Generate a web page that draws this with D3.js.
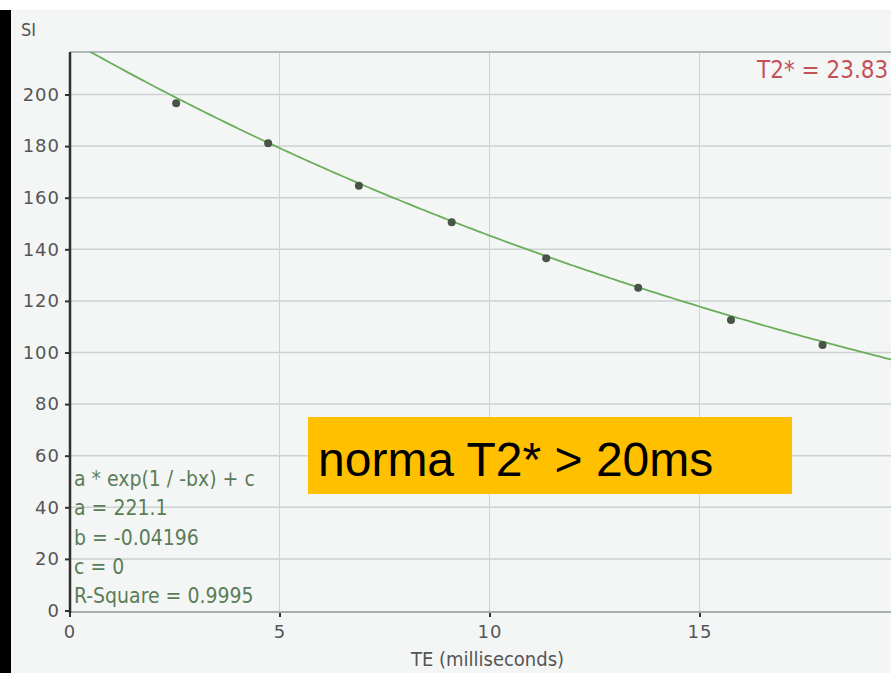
<!DOCTYPE html>
<html>
<head>
<meta charset="utf-8">
<script src="https://cdn.jsdelivr.net/npm/d3@7"></script>
<style>
  html, body { margin: 0; padding: 0; background: #ffffff; overflow: hidden; }
  svg { display: block; }
</style>
</head>
<body>
<svg id="chart" width="891" height="673"></svg>
<script>
// Echo times (ms) and measured signal intensity
const te = [2.54, 4.73, 6.89, 9.10, 11.35, 13.54, 15.75, 17.93];
const si = [196.6, 181.1, 164.6, 150.5, 136.5, 125.1, 112.6, 102.9];

// Exponential fit parameters: SI = a * exp(-b * TE) + c
const fitA = 221.1;
const fitB = 0.04196;
const fitC = 0;
const rSquare = 0.9995;
const t2star = 23.83;

const yTicks = [0, 20, 40, 60, 80, 100, 120, 140, 160, 180, 200];
const xTicks = [0, 5, 10, 15];
const fitLines = [
  "a * exp(1 / -bx) + c",
  "a = " + fitA,
  "b = -" + fitB,
  "c = " + fitC,
  "R-Square = " + rSquare
];

const W = 891, H = 673;
const plot = { left: 70, right: 891, top: 52, bottom: 612 };
const condensed = '"DejaVu Sans Condensed", "DejaVu Sans", sans-serif';
const tickFont = '"DejaVu Sans", sans-serif';

const svg = d3.select("#chart");

// background panel, dark left border strip
svg.append("rect").attr("x", 0).attr("y", 0).attr("width", W).attr("height", H).attr("fill", "#ffffff");
svg.append("rect").attr("x", 0).attr("y", 10).attr("width", W).attr("height", H - 10).attr("fill", "#f4f6f6");
svg.append("rect").attr("x", 0).attr("y", 10).attr("width", 11).attr("height", H - 10).attr("fill", "#000000");

const x = d3.scaleLinear().domain([0, 20]).range([69.5, 909.5]);
const y = d3.scaleLinear().domain([0, 200]).range([610.5, 94.5]);

svg.append("defs").append("clipPath").attr("id", "plotClip")
  .append("rect")
  .attr("x", plot.left).attr("y", plot.top)
  .attr("width", plot.right - plot.left).attr("height", plot.bottom - plot.top);

// grid
const grid = svg.append("g");
grid.selectAll("line.h").data(yTicks.filter(d => d > 0)).join("line")
  .attr("x1", plot.left).attr("x2", plot.right)
  .attr("y1", d => y(d)).attr("y2", d => y(d))
  .attr("stroke", "#cdd1d1").attr("stroke-width", 1.5);
grid.selectAll("line.v").data(xTicks.filter(d => d > 0)).join("line")
  .attr("y1", plot.top).attr("y2", plot.bottom)
  .attr("x1", d => x(d)).attr("x2", d => x(d))
  .attr("stroke", "#cfd3d3").attr("stroke-width", 1);

// top border
svg.append("line").attr("x1", plot.left).attr("x2", W)
  .attr("y1", plot.top).attr("y2", plot.top)
  .attr("stroke", "#b4b8b8").attr("stroke-width", 2);

// x axis
const xAxis = svg.append("g").attr("transform", `translate(0,${plot.bottom})`)
  .call(d3.axisBottom(x).tickValues(xTicks).tickSize(5).tickPadding(8));
xAxis.select(".domain").remove();
xAxis.append("line").attr("x1", plot.left).attr("x2", W).attr("y1", 0).attr("y2", 0)
  .attr("stroke", "#a9adad").attr("stroke-width", 2);
xAxis.selectAll(".tick line").attr("stroke", "#333").attr("stroke-width", 2);
xAxis.selectAll(".tick text").attr("fill", "#555")
  .style("font-family", tickFont).style("font-size", "18px").style("letter-spacing", "1px");

// y axis
const yAxis = svg.append("g").attr("transform", `translate(${plot.left},0)`)
  .call(d3.axisLeft(y).tickValues(yTicks).tickSize(5).tickPadding(5));
yAxis.select(".domain").remove();
yAxis.append("line").attr("x1", 0).attr("x2", 0).attr("y1", plot.top).attr("y2", plot.bottom + 1)
  .attr("stroke", "#2e3030").attr("stroke-width", 2.5);
yAxis.selectAll(".tick line").attr("stroke", "#333").attr("stroke-width", 2);
yAxis.selectAll(".tick text").attr("fill", "#555")
  .style("font-family", tickFont).style("font-size", "18px").style("letter-spacing", "1px");

// axis titles
svg.append("text").attr("x", 21).attr("y", 36).text("SI")
  .style("font-family", condensed).style("font-size", "18px").attr("fill", "#555");
svg.append("text").attr("x", x(10) - 2).attr("y", 666).attr("text-anchor", "middle")
  .text("TE (milliseconds)")
  .style("font-family", condensed).style("font-size", "20px").attr("fill", "#555");

// fitted curve
const plotG = svg.append("g").attr("clip-path", "url(#plotClip)");
const curveX = d3.range(0, 20.01, 0.1);
const line = d3.line().x(d => x(d)).y(d => y(fitA * Math.exp(-fitB * d) + fitC));
plotG.append("path").datum(curveX).attr("d", line)
  .attr("fill", "none").attr("stroke", "#6aae5c").attr("stroke-width", 1.8);

// measured points
plotG.selectAll("circle").data(te).join("circle")
  .attr("cx", d => x(d)).attr("cy", (d, i) => y(si[i])).attr("r", 4)
  .attr("fill", "#475547");

// T2* result
svg.append("text").attr("x", 757).attr("y", 78).text("T2* = " + t2star)
  .style("font-family", condensed).style("font-size", "24px").attr("fill", "#c4505a");

// fit parameter block
svg.append("g").selectAll("text").data(fitLines).join("text")
  .attr("x", 74).attr("y", (d, i) => 486 + i * 29.3)
  .text(d => d)
  .style("font-family", condensed).style("font-size", "21px").attr("fill", "#5a7d58");

// annotation box
svg.append("rect").attr("x", 308).attr("y", 417).attr("width", 484).attr("height", 77)
  .attr("fill", "#ffc000");
svg.append("text").attr("x", 318).attr("y", 476).text("norma T2* > 20ms")
  .style("font-family", "'Liberation Sans', Arial, sans-serif").style("font-size", "48px").attr("fill", "#000");
</script>
</body>
</html>
